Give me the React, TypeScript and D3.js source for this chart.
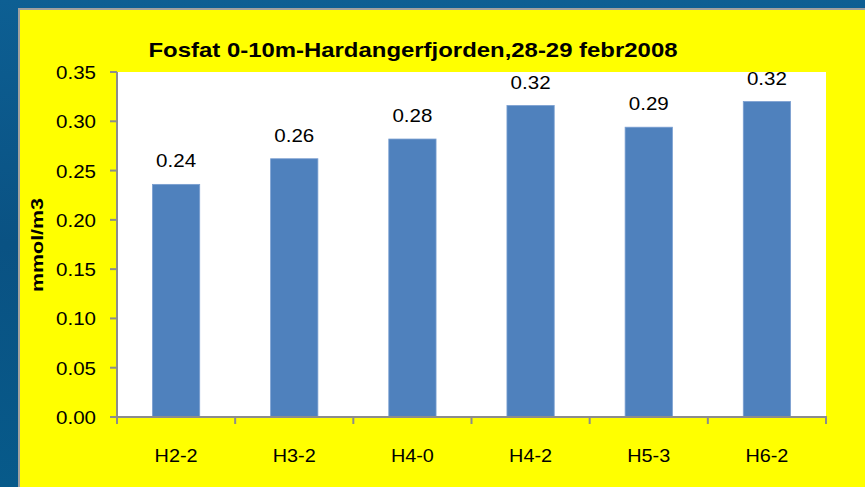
import React from "react";
import * as d3 from "d3";

const categories = ["H2-2", "H3-2", "H4-0", "H4-2", "H5-3", "H6-2"];
const values = [0.236, 0.262, 0.282, 0.316, 0.294, 0.32];
const yTicks = [0, 0.05, 0.1, 0.15, 0.2, 0.25, 0.3, 0.35];
const title = "Fosfat 0-10m-Hardangerfjorden,28-29 febr2008";
const yLabel = "mmol/m3";

const W = 865;
const H = 487;
const plot = { left: 117, right: 826, top: 72, bottom: 417 };
const font = "'Liberation Sans', Arial, sans-serif";

export default function App() {
  const x = d3
    .scaleBand<string>()
    .domain(categories)
    .range([plot.left, plot.right])
    .paddingInner(0.6)
    .paddingOuter(0.3);
  const y = d3.scaleLinear().domain([0, 0.35]).range([plot.bottom, plot.top]);
  const step = (plot.right - plot.left) / categories.length;
  const boundaries = d3.range(categories.length + 1).map((i) => plot.left + i * step);
  const axisColor = "#8c8c8c";

  return (
    <svg
      width={W}
      height={H}
      style={{ position: "absolute", left: 0, top: 0, display: "block" }}
    >
      <defs>
        <linearGradient id="bg" x1="0" y1="0" x2="0" y2="1">
          <stop offset="0" stopColor="#0d5f93" />
          <stop offset="0.5" stopColor="#0a5283" />
          <stop offset="1" stopColor="#075a8a" />
        </linearGradient>
      </defs>
      <rect x={0} y={0} width={W} height={H} fill="url(#bg)" />
      <rect x={18} y={8} width={W - 18} height={H - 8} fill="#a0a0a0" />
      <rect x={20} y={10} width={W - 20} height={H - 10} fill="#ffff00" />
      <rect
        x={plot.left}
        y={plot.top}
        width={plot.right - plot.left}
        height={plot.bottom - plot.top}
        fill="#ffffff"
      />
      <text
        x={413}
        y={57}
        textAnchor="middle"
        fontFamily={font}
        fontWeight="bold"
        fontSize={21}
        textLength={529}
        lengthAdjust="spacingAndGlyphs"
        fill="#000"
      >
        {title}
      </text>
      <text
        transform={`translate(43,245) rotate(-90)`}
        textAnchor="middle"
        fontFamily={font}
        fontWeight="bold"
        fontSize={17}
        textLength={94}
        lengthAdjust="spacingAndGlyphs"
        fill="#000"
      >
        {yLabel}
      </text>
      {categories.map((c, i) => {
        const bx = x(c)!;
        const by = y(values[i]);
        return (
          <g key={c}>
            <rect
              x={bx}
              y={by}
              width={x.bandwidth()}
              height={plot.bottom - by}
              fill="#4f81bd"
              stroke="#7a9fd0"
              strokeWidth={0.8}
            />
            <text
              x={bx + x.bandwidth() / 2}
              y={by - 17}
              textAnchor="middle"
              fontFamily={font}
              fontSize={19}
              textLength={40}
              lengthAdjust="spacingAndGlyphs"
              fill="#000"
            >
              {d3.format(".2f")(values[i])}
            </text>
            <text
              x={plot.left + step * (i + 0.5)}
              y={462}
              textAnchor="middle"
              fontFamily={font}
              fontSize={19}
              textLength={43}
              lengthAdjust="spacingAndGlyphs"
              fill="#000"
            >
              {c}
            </text>
          </g>
        );
      })}
      {yTicks.map((t) => (
        <g key={t}>
          <line x1={110} x2={plot.left} y1={y(t)} y2={y(t)} stroke={axisColor} strokeWidth={2} />
          <text
            x={96}
            y={y(t) + 7}
            textAnchor="end"
            fontFamily={font}
            fontSize={19}
            textLength={40}
            lengthAdjust="spacingAndGlyphs"
            fill="#000"
          >
            {d3.format(".2f")(t)}
          </text>
        </g>
      ))}
      {boundaries.map((b, i) => (
        <line key={i} x1={b} x2={b} y1={plot.bottom} y2={plot.bottom + 7} stroke={axisColor} strokeWidth={2} />
      ))}
      <line x1={plot.left} x2={plot.left} y1={plot.top} y2={plot.bottom + 1} stroke={axisColor} strokeWidth={2} />
      <line x1={plot.left - 1} x2={plot.right + 1} y1={plot.bottom} y2={plot.bottom} stroke={axisColor} strokeWidth={2} />
    </svg>
  );
}
